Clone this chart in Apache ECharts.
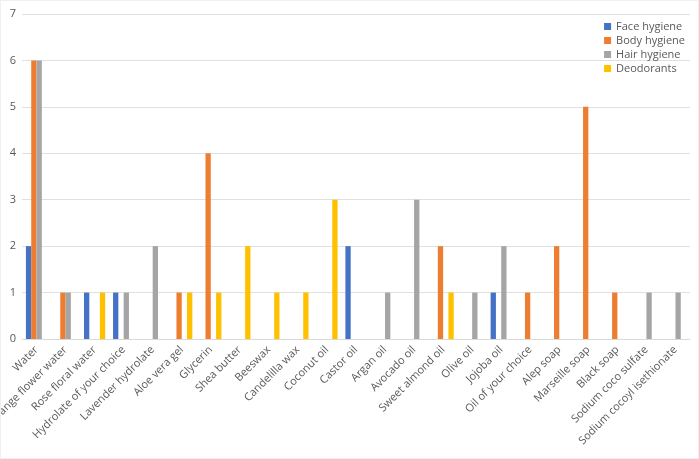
<!DOCTYPE html>
<html>
<head>
<meta charset="utf-8">
<script src="https://cdn.jsdelivr.net/npm/echarts@6/dist/echarts.min.js"></script>
<style>
  html, body { margin: 0; padding: 0; background: #fff; }
  #chart { width: 697px; height: 457px; border: 1px solid #f0f0f0; }
</style>
</head>
<body>
<div id="chart"></div>
<script>
// ingredient categories along the x axis
var categories = ['Water', 'Orange flower water', 'Rose floral water', 'Hydrolate of your choice',
	'Lavender hydrolate', 'Aloe vera gel', 'Glycerin', 'Shea butter', 'Beeswax', 'Candelilla wax',
	'Coconut oil', 'Castor oil', 'Argan oil', 'Avocado oil', 'Sweet almond oil', 'Olive oil',
	'Jojoba oil', 'Oil of your choice', 'Alep soap', 'Marseille soap', 'Black soap',
	'Sodium coco sulfate', 'Sodium cocoyl isethionate'];

var seriesNames = ['Face hygiene', 'Body hygiene', 'Hair hygiene', 'Deodorants'];

var faceHygiene = [2, 0, 1, 1, 0, 0, 0, 0, 0, 0, 0, 2, 0, 0, 0, 0, 1, 0, 0, 0, 0, 0, 0];
var bodyHygiene = [6, 1, 0, 0, 0, 1, 4, 0, 0, 0, 0, 0, 0, 0, 2, 0, 0, 1, 2, 5, 1, 0, 0];
var hairHygiene = [6, 1, 0, 1, 2, 0, 0, 0, 0, 0, 0, 0, 1, 3, 0, 1, 2, 0, 0, 0, 0, 1, 1];
var deodorants  = [0, 0, 1, 0, 0, 1, 1, 2, 1, 1, 3, 0, 0, 0, 1, 0, 0, 0, 0, 0, 0, 0, 0];

var colors = ['#4472C4', '#ED7D31', '#A5A5A5', '#FFC000'];

var chart = echarts.init(document.getElementById('chart'));

var allData = [faceHygiene, bodyHygiene, hairHygiene, deodorants];
var series = [];
for (var i = 0; i < seriesNames.length; i++) {
	series.push({
		name: seriesNames[i],
		type: 'bar',
		data: allData[i],
		barGap: '0%',
		barCategoryGap: '27%',
		itemStyle: { color: colors[i] }
	});
}

chart.setOption({
	animation: false,
	textStyle: { fontFamily: 'Open Sans' },
	color: colors,
	legend: {
		orient: 'vertical',
		right: 8,
		top: 15,
		itemWidth: 7,
		itemHeight: 7,
		itemGap: 3,
		icon: 'rect',
		textStyle: { color: '#595959', fontSize: 11 },
		data: seriesNames
	},
	grid: {
		left: 21,
		right: 8,
		top: 13,
		bottom: 119,
		outerBoundsMode: 'none'
	},
	xAxis: {
		type: 'category',
		data: categories,
		axisTick: { show: false },
		axisLine: { lineStyle: { color: '#d9d9d9' } },
		axisLabel: {
			interval: 0,
			rotate: 45,
			color: '#595959',
			fontSize: 11,
			margin: 9
		}
	},
	yAxis: {
		type: 'value',
		min: 0,
		max: 7,
		interval: 1,
		axisLabel: { color: '#595959', fontSize: 11, margin: 6 },
		splitLine: { lineStyle: { color: '#e0e0e0' } }
	},
	series: series
});
</script>
</body>
</html>
